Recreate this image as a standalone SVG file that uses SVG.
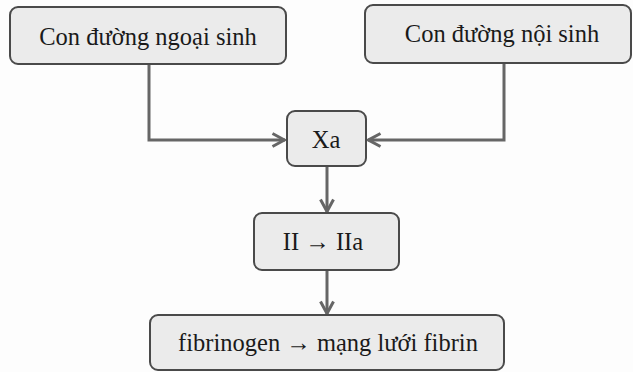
<svg xmlns="http://www.w3.org/2000/svg" width="633" height="372" viewBox="0 0 633 372">
<style>
.box{fill:#ebebeb;stroke:#4a4a4a;stroke-width:2}
.lbl{font-family:"Liberation Serif","Times New Roman",serif;font-size:24.5px;fill:#1a1a1a;text-anchor:middle}
.conn{fill:none;stroke:#666;stroke-width:3}
</style>
<defs>
<marker id="arr" viewBox="0 0 16 16" refX="14.5" refY="8" markerWidth="16" markerHeight="16" markerUnits="userSpaceOnUse" orient="auto">
<path d="M2,1.5 L14,8 L2,14.5" fill="none" stroke="#666" stroke-width="3" stroke-linejoin="miter"/>
</marker>
</defs>
<rect width="633" height="372" fill="#fdfdfd"/>
<g id="connectors">
<path class="conn" d="M149,64 V140 H285" marker-end="url(#arr)"/>
<path class="conn" d="M504,63 V140 H368" marker-end="url(#arr)"/>
<path class="conn" d="M327,166 V212" marker-end="url(#arr)"/>
<path class="conn" d="M327,270 V314" marker-end="url(#arr)"/>
</g>
<g id="ngoai">
<rect class="box" x="10" y="7" width="276" height="57" rx="8"/>
<text class="lbl" x="148" y="45">Con đường ngoại sinh</text>
</g>
<g id="noi">
<rect class="box" x="365" y="5" width="266" height="58" rx="8"/>
<text class="lbl" x="502" y="42">Con đường nội sinh</text>
</g>
<g id="xa">
<rect class="box" x="287" y="111" width="79" height="55" rx="8"/>
<text class="lbl" x="326" y="148">Xa</text>
</g>
<g id="ii">
<rect class="box" x="254" y="213" width="145" height="57" rx="8"/>
<text class="lbl" x="323" y="250">II → IIa</text>
</g>
<g id="fibrin">
<rect class="box" x="150" y="315" width="354" height="55" rx="8"/>
<text class="lbl" x="328" y="351">fibrinogen → mạng lưới fibrin</text>
</g>
</svg>
